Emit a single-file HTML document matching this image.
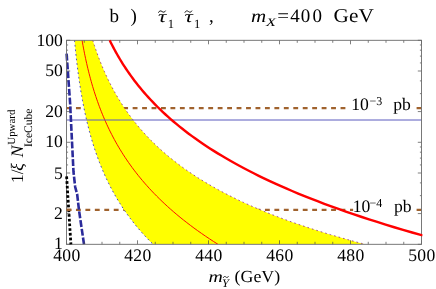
<!DOCTYPE html>
<html><head><meta charset="utf-8"><title>plot</title>
<style>
html,body{margin:0;padding:0;background:#fff;}
body{width:436px;height:289px;overflow:hidden;position:relative;font-family:"Liberation Serif",serif;}
svg{position:absolute;left:0;top:0;will-change:transform;}
text{font-family:"Liberation Serif",serif;fill:#000;text-rendering:geometricPrecision;}
.tk{font-size:17.6px;}
.tt{font-size:18.5px;}
.it{font-style:italic;}
</style></head><body>
<svg width="436" height="289" viewBox="0 0 436 289">
<defs><clipPath id="cp"><rect x="66.5" y="40.3" width="355.0" height="204.0"/></clipPath></defs>
<rect width="436" height="289" fill="#fff"/>
<g clip-path="url(#cp)">
<!-- brown dashed (behind band) -->
<path d="M66.5 108.1 H346" stroke="#a0622d" stroke-width="2.4" stroke-dasharray="4.85 4.6" fill="none"/>
<path d="M416.6 108.1 H421.5" stroke="#a0622d" stroke-width="2.4" fill="none"/>
<path d="M66.5 209.9 H353.1" stroke="#a0622d" stroke-width="2.4" stroke-dasharray="4.85 4.6" fill="none"/>
<path d="M416.6 209.9 H421.5" stroke="#a0622d" stroke-width="2.4" fill="none"/>
<!-- band -->
<path d="M74.53 40.30 L74.77 42.96 L75.03 45.62 L75.29 48.27 L75.56 50.92 L75.83 53.57 L76.12 56.21 L76.41 58.86 L76.71 61.50 L77.03 64.13 L77.35 66.77 L77.68 69.40 L78.02 72.02 L78.37 74.65 L78.74 77.27 L79.11 79.89 L79.49 82.51 L79.89 85.13 L80.30 87.74 L80.72 90.35 L81.16 92.96 L81.61 95.56 L82.07 98.17 L82.54 100.77 L83.03 103.37 L83.54 105.96 L84.06 108.56 L84.59 111.15 L85.15 113.74 L85.72 116.33 L86.30 118.92 L86.91 121.51 L87.53 124.09 L88.18 126.67 L88.84 129.25 L89.52 131.83 L90.22 134.41 L90.95 136.98 L91.70 139.56 L92.47 142.13 L93.26 144.70 L94.08 147.27 L94.92 149.84 L95.79 152.40 L96.68 154.97 L97.61 157.53 L98.56 160.09 L99.54 162.66 L100.55 165.22 L101.59 167.78 L102.66 170.34 L103.76 172.89 L104.90 175.45 L106.08 178.01 L107.28 180.56 L108.53 183.12 L109.82 185.67 L111.14 188.22 L112.50 190.77 L113.91 193.33 L115.36 195.88 L116.85 198.43 L118.39 200.98 L119.97 203.53 L121.61 206.08 L123.29 208.63 L125.03 211.17 L126.82 213.72 L128.66 216.27 L130.56 218.82 L132.52 221.37 L134.53 223.91 L136.61 226.46 L138.75 229.01 L140.96 231.56 L143.24 234.11 L145.58 236.65 L148.00 239.20 L150.49 241.75 L153.05 244.30 L365.09 244.30 L356.04 241.90 L347.27 239.49 L338.76 237.07 L330.51 234.65 L322.51 232.21 L314.76 229.77 L307.23 227.32 L299.94 224.86 L292.87 222.40 L286.01 219.92 L279.36 217.44 L272.91 214.95 L266.65 212.46 L260.59 209.96 L254.71 207.45 L249.01 204.94 L243.48 202.42 L238.12 199.89 L232.92 197.36 L227.87 194.82 L222.98 192.27 L218.24 189.72 L213.65 187.17 L209.19 184.61 L204.86 182.04 L200.67 179.47 L196.61 176.89 L192.66 174.31 L188.84 171.73 L185.13 169.14 L181.54 166.55 L178.05 163.95 L174.67 161.35 L171.40 158.75 L168.22 156.14 L165.14 153.53 L162.15 150.91 L159.25 148.30 L156.44 145.68 L153.72 143.05 L151.07 140.43 L148.51 137.80 L146.03 135.17 L143.62 132.54 L141.28 129.90 L139.01 127.27 L136.82 124.63 L134.69 121.99 L132.62 119.35 L130.62 116.71 L128.67 114.06 L126.79 111.42 L124.96 108.78 L123.19 106.13 L121.47 103.49 L119.81 100.84 L118.19 98.20 L116.63 95.55 L115.11 92.91 L113.64 90.26 L112.21 87.62 L110.82 84.97 L109.48 82.33 L108.18 79.69 L106.92 77.05 L105.69 74.41 L104.50 71.77 L103.35 69.14 L102.24 66.50 L101.15 63.87 L100.10 61.24 L99.08 58.61 L98.10 55.99 L97.14 53.37 L96.21 50.75 L95.31 48.13 L94.44 45.52 L93.59 42.91 L92.77 40.30Z" fill="#ffff00" stroke="none"/>
<path d="M74.53 40.30 L74.77 42.96 L75.03 45.62 L75.29 48.27 L75.56 50.92 L75.83 53.57 L76.12 56.21 L76.41 58.86 L76.71 61.50 L77.03 64.13 L77.35 66.77 L77.68 69.40 L78.02 72.02 L78.37 74.65 L78.74 77.27 L79.11 79.89 L79.49 82.51 L79.89 85.13 L80.30 87.74 L80.72 90.35 L81.16 92.96 L81.61 95.56 L82.07 98.17 L82.54 100.77 L83.03 103.37 L83.54 105.96 L84.06 108.56 L84.59 111.15 L85.15 113.74 L85.72 116.33 L86.30 118.92 L86.91 121.51 L87.53 124.09 L88.18 126.67 L88.84 129.25 L89.52 131.83 L90.22 134.41 L90.95 136.98 L91.70 139.56 L92.47 142.13 L93.26 144.70 L94.08 147.27 L94.92 149.84 L95.79 152.40 L96.68 154.97 L97.61 157.53 L98.56 160.09 L99.54 162.66 L100.55 165.22 L101.59 167.78 L102.66 170.34 L103.76 172.89 L104.90 175.45 L106.08 178.01 L107.28 180.56 L108.53 183.12 L109.82 185.67 L111.14 188.22 L112.50 190.77 L113.91 193.33 L115.36 195.88 L116.85 198.43 L118.39 200.98 L119.97 203.53 L121.61 206.08 L123.29 208.63 L125.03 211.17 L126.82 213.72 L128.66 216.27 L130.56 218.82 L132.52 221.37 L134.53 223.91 L136.61 226.46 L138.75 229.01 L140.96 231.56 L143.24 234.11 L145.58 236.65 L148.00 239.20 L150.49 241.75 L153.05 244.30" fill="none" stroke="#2020c8" stroke-opacity="0.9" stroke-width="0.9" stroke-dasharray="1.7 2.9"/>
<path d="M92.77 40.30 L93.59 42.91 L94.44 45.52 L95.31 48.13 L96.21 50.75 L97.14 53.37 L98.10 55.99 L99.08 58.61 L100.10 61.24 L101.15 63.87 L102.24 66.50 L103.35 69.14 L104.50 71.77 L105.69 74.41 L106.92 77.05 L108.18 79.69 L109.48 82.33 L110.82 84.97 L112.21 87.62 L113.64 90.26 L115.11 92.91 L116.63 95.55 L118.19 98.20 L119.81 100.84 L121.47 103.49 L123.19 106.13 L124.96 108.78 L126.79 111.42 L128.67 114.06 L130.62 116.71 L132.62 119.35 L134.69 121.99 L136.82 124.63 L139.01 127.27 L141.28 129.90 L143.62 132.54 L146.03 135.17 L148.51 137.80 L151.07 140.43 L153.72 143.05 L156.44 145.68 L159.25 148.30 L162.15 150.91 L165.14 153.53 L168.22 156.14 L171.40 158.75 L174.67 161.35 L178.05 163.95 L181.54 166.55 L185.13 169.14 L188.84 171.73 L192.66 174.31 L196.61 176.89 L200.67 179.47 L204.86 182.04 L209.19 184.61 L213.65 187.17 L218.24 189.72 L222.98 192.27 L227.87 194.82 L232.92 197.36 L238.12 199.89 L243.48 202.42 L249.01 204.94 L254.71 207.45 L260.59 209.96 L266.65 212.46 L272.91 214.95 L279.36 217.44 L286.01 219.92 L292.87 222.40 L299.94 224.86 L307.23 227.32 L314.76 229.77 L322.51 232.21 L330.51 234.65 L338.76 237.07 L347.27 239.49 L356.04 241.90 L365.09 244.30" fill="none" stroke="#8a208a" stroke-opacity="0.85" stroke-width="0.9" stroke-dasharray="1.7 2.95"/>
<!-- thin red -->
<path d="M82.07 40.30 L82.52 42.89 L82.99 45.48 L83.47 48.07 L83.97 50.65 L84.48 53.22 L85.01 55.79 L85.55 58.36 L86.10 60.93 L86.68 63.49 L87.26 66.04 L87.87 68.60 L88.50 71.15 L89.14 73.70 L89.80 76.25 L90.48 78.79 L91.18 81.33 L91.90 83.87 L92.64 86.41 L93.41 88.94 L94.19 91.48 L95.00 94.01 L95.84 96.54 L96.69 99.07 L97.58 101.60 L98.48 104.13 L99.42 106.66 L100.38 109.18 L101.37 111.71 L102.39 114.24 L103.44 116.77 L104.52 119.29 L105.63 121.82 L106.77 124.35 L107.95 126.88 L109.16 129.41 L110.40 131.94 L111.69 134.48 L113.01 137.01 L114.36 139.55 L115.76 142.08 L117.20 144.62 L118.68 147.17 L120.21 149.71 L121.78 152.26 L123.39 154.81 L125.05 157.36 L126.77 159.91 L128.53 162.47 L130.34 165.03 L132.20 167.60 L134.12 170.17 L136.10 172.74 L138.13 175.32 L140.22 177.90 L142.38 180.49 L144.60 183.08 L146.88 185.67 L149.23 188.27 L151.64 190.88 L154.13 193.49 L156.69 196.10 L159.33 198.72 L162.04 201.35 L164.83 203.98 L167.70 206.62 L170.66 209.27 L173.70 211.92 L176.83 214.58 L180.06 217.24 L183.37 219.91 L186.79 222.59 L190.30 225.28 L193.92 227.97 L197.64 230.67 L201.47 233.38 L205.42 236.10 L209.48 238.82 L213.65 241.56 L217.95 244.30" fill="none" stroke="#ff0000" stroke-width="0.95"/>
<path d="M66.5 120.0 H421.5" stroke="#5a5abe" stroke-width="1" fill="none"/>
</g>
<!-- blue dashed -->
<path d="M66.60 53.70 L70.10 103.00 L73.50 172.00 L75.20 187.00 L77.20 194.50 L79.00 210.30 L84.00 244.30" fill="none" stroke="#2b2b9b" stroke-width="2.6" stroke-dasharray="6.9 1.9"/>
<!-- frame & ticks -->
<path d="M66.50 244.30 v-4.00 M66.50 40.30 v4.00 M84.25 244.30 v-2.50 M84.25 40.30 v2.50 M102.00 244.30 v-2.50 M102.00 40.30 v2.50 M119.75 244.30 v-2.50 M119.75 40.30 v2.50 M137.50 244.30 v-4.00 M137.50 40.30 v4.00 M155.25 244.30 v-2.50 M155.25 40.30 v2.50 M173.00 244.30 v-2.50 M173.00 40.30 v2.50 M190.75 244.30 v-2.50 M190.75 40.30 v2.50 M208.50 244.30 v-4.00 M208.50 40.30 v4.00 M226.25 244.30 v-2.50 M226.25 40.30 v2.50 M244.00 244.30 v-2.50 M244.00 40.30 v2.50 M261.75 244.30 v-2.50 M261.75 40.30 v2.50 M279.50 244.30 v-4.00 M279.50 40.30 v4.00 M297.25 244.30 v-2.50 M297.25 40.30 v2.50 M315.00 244.30 v-2.50 M315.00 40.30 v2.50 M332.75 244.30 v-2.50 M332.75 40.30 v2.50 M350.50 244.30 v-4.00 M350.50 40.30 v4.00 M368.25 244.30 v-2.50 M368.25 40.30 v2.50 M386.00 244.30 v-2.50 M386.00 40.30 v2.50 M403.75 244.30 v-2.50 M403.75 40.30 v2.50 M421.50 244.30 v-4.00 M421.50 40.30 v4.00 M66.50 244.30 h3.70 M421.50 244.30 h-3.70 M66.50 213.59 h3.70 M421.50 213.59 h-3.70 M66.50 195.63 h1.60 M421.50 195.63 h-1.60 M66.50 182.89 h1.60 M421.50 182.89 h-1.60 M66.50 173.01 h3.70 M421.50 173.01 h-3.70 M66.50 164.93 h1.60 M421.50 164.93 h-1.60 M66.50 158.10 h1.60 M421.50 158.10 h-1.60 M66.50 152.18 h1.60 M421.50 152.18 h-1.60 M66.50 146.97 h1.60 M421.50 146.97 h-1.60 M66.50 142.30 h3.70 M421.50 142.30 h-3.70 M66.50 111.59 h3.70 M421.50 111.59 h-3.70 M66.50 93.63 h1.60 M421.50 93.63 h-1.60 M66.50 80.89 h1.60 M421.50 80.89 h-1.60 M66.50 71.01 h3.70 M421.50 71.01 h-3.70 M66.50 62.93 h1.60 M421.50 62.93 h-1.60 M66.50 56.10 h1.60 M421.50 56.10 h-1.60 M66.50 50.18 h1.60 M421.50 50.18 h-1.60 M66.50 44.97 h1.60 M421.50 44.97 h-1.60 M66.50 40.30 h3.70 M421.50 40.30 h-3.70" stroke="#484848" stroke-width="0.7" fill="none"/>
<rect x="66.5" y="40.3" width="355.0" height="204.0" fill="none" stroke="#6a6a6a" stroke-width="0.9"/>
<path d="M109.69 40.30 L110.86 42.67 L112.06 45.04 L113.29 47.40 L114.56 49.77 L115.85 52.14 L117.19 54.51 L118.56 56.89 L119.96 59.26 L121.41 61.63 L122.89 64.01 L124.42 66.38 L125.98 68.76 L127.59 71.14 L129.24 73.51 L130.94 75.90 L132.68 78.28 L134.46 80.66 L136.30 83.05 L138.19 85.43 L140.12 87.82 L142.11 90.22 L144.16 92.61 L146.26 95.00 L148.41 97.40 L150.62 99.80 L152.90 102.20 L155.23 104.61 L157.63 107.02 L160.09 109.43 L162.62 111.84 L165.22 114.25 L167.89 116.67 L170.63 119.09 L173.44 121.52 L176.33 123.95 L179.30 126.38 L182.35 128.81 L185.48 131.25 L188.69 133.69 L191.99 136.14 L195.38 138.58 L198.87 141.04 L202.44 143.49 L206.12 145.95 L209.89 148.42 L213.76 150.88 L217.74 153.36 L221.83 155.83 L226.03 158.31 L230.34 160.80 L234.77 163.29 L239.31 165.78 L243.98 168.28 L248.78 170.78 L253.70 173.29 L258.76 175.81 L263.96 178.32 L269.29 180.85 L274.77 183.38 L280.40 185.91 L286.18 188.45 L292.12 190.99 L298.21 193.54 L304.48 196.10 L310.91 198.66 L317.51 201.23 L324.29 203.80 L331.26 206.38 L338.41 208.96 L345.76 211.56 L353.31 214.15 L361.06 216.76 L369.02 219.37 L377.19 221.98 L385.59 224.61 L394.21 227.23 L403.06 229.87 L412.16 232.51 L421.50 235.16 L422.40 235.15" fill="none" stroke="#ff0000" stroke-width="2.4"/>
<path d="M66.60 176.40 L70.90 244.30" fill="none" stroke="#000" stroke-width="2.8" stroke-dasharray="2.7 2.02"/>
<path d="M66.5 209.9 H71.35" stroke="#a0622d" stroke-width="2.4" fill="none"/>
<text x="67.00" y="261.0" text-anchor="middle" class="tk" style="letter-spacing:0.45px">400</text><text x="138.00" y="261.0" text-anchor="middle" class="tk" style="letter-spacing:0.45px">420</text><text x="209.00" y="261.0" text-anchor="middle" class="tk" style="letter-spacing:0.45px">440</text><text x="280.00" y="261.0" text-anchor="middle" class="tk" style="letter-spacing:0.45px">460</text><text x="351.00" y="261.0" text-anchor="middle" class="tk" style="letter-spacing:0.45px">480</text><text x="422.00" y="261.0" text-anchor="middle" class="tk" style="letter-spacing:0.45px">500</text>
<text x="62.8" y="249.20" text-anchor="end" class="tk">1</text><text x="62.8" y="218.70" text-anchor="end" class="tk">2</text><text x="62.8" y="178.70" text-anchor="end" class="tk">5</text><text x="62.8" y="146.90" text-anchor="end" class="tk">10</text><text x="62.8" y="116.80" text-anchor="end" class="tk">20</text><text x="62.8" y="76.00" text-anchor="end" class="tk">50</text><text x="62.8" y="46.20" text-anchor="end" class="tk">100</text>
<!-- curve labels -->
<text x="351.3" y="110.2" class="tk">10</text><text x="369.6" y="105.2" style="font-size:12px">−3</text><text x="393.3" y="110.2" class="tk">pb</text>
<text x="352.7" y="212.2" class="tk">10</text><text x="369.6" y="207.2" style="font-size:12px">−4</text><text x="394.0" y="212.2" class="tk">pb</text>
<!-- title -->
<text transform="translate(109.60,21.80) scale(1.000,1)" class="" style="font-size:19.00px">b</text>
<text transform="translate(130.50,21.80) scale(1.000,1)" class="" style="font-size:19.00px">)</text>
<text transform="translate(158.00,22.10) scale(1.360,1)" class="it" style="font-size:17.00px">τ</text>
<path d="M158.4 12.7 C159.3 10.6 160.8 10.5 162.0 11.5 C163.2 12.5 164.6 12.6 165.6 10.6" fill="none" stroke="#000" stroke-width="0.9"/>
<text transform="translate(167.70,28.10) scale(1.000,1)" class="" style="font-size:12.60px">1</text>
<text transform="translate(184.40,22.10) scale(1.360,1)" class="it" style="font-size:17.00px">τ</text>
<path d="M184.8 12.7 C185.7 10.6 187.2 10.5 188.4 11.5 C189.6 12.5 191.0 12.6 192.0 10.6" fill="none" stroke="#000" stroke-width="0.9"/>
<text transform="translate(194.10,28.10) scale(1.000,1)" class="" style="font-size:12.60px">1</text>
<text transform="translate(209.00,21.80) scale(1.000,1)" class="" style="font-size:19.00px">,</text>
<text transform="translate(251.00,22.20) scale(1.170,1)" class="it" style="font-size:18.00px">m</text>
<text transform="translate(266.00,25.60) scale(1.400,1)" class="it" style="font-size:11.60px">X</text>
<text transform="translate(277.30,22.20) scale(1.100,1)" class="" style="font-size:19.00px">=</text>
<text transform="translate(290.30,22.20) scale(1.000,1)" class="" style="font-size:19.00px">4</text><text transform="translate(300.80,22.20) scale(1.000,1)" class="" style="font-size:19.00px">0</text><text transform="translate(312.50,22.20) scale(1.000,1)" class="" style="font-size:19.00px">0</text>
<text transform="translate(333.60,22.20) scale(1.090,1)" class="" style="font-size:19.50px">GeV</text>
<!-- x label -->
<text transform="translate(208.50,281.60) scale(1.200,1)" class="it" style="font-size:16.50px">m</text>
<text transform="translate(222.00,286.80) scale(1.080,1)" class="it" style="font-size:11.50px">Y</text>
<path d="M223.2 277.9 C223.9 276.2 225.1 276.2 225.9 277.0 C226.7 277.8 227.8 277.7 228.5 276.2" fill="none" stroke="#000" stroke-width="0.8"/>
<text transform="translate(234.60,281.60) scale(1.050,1)" class="" style="font-size:17.00px">(GeV)</text>
<!-- y label -->
<g transform="translate(22.8,183) rotate(-90)">
<text x="0" y="0" style="font-size:17.5px">1/</text>
<text x="12.3" y="0" class="it" style="font-size:17.5px">ξ</text>
<text x="25.7" y="0" class="it" style="font-size:17.5px">N</text>
<text x="38.3" y="-8" style="font-size:10.9px">Upward</text>
<text x="36" y="8.7" style="font-size:11.5px">IceCube</text>
</g>
</svg>
</body></html>
